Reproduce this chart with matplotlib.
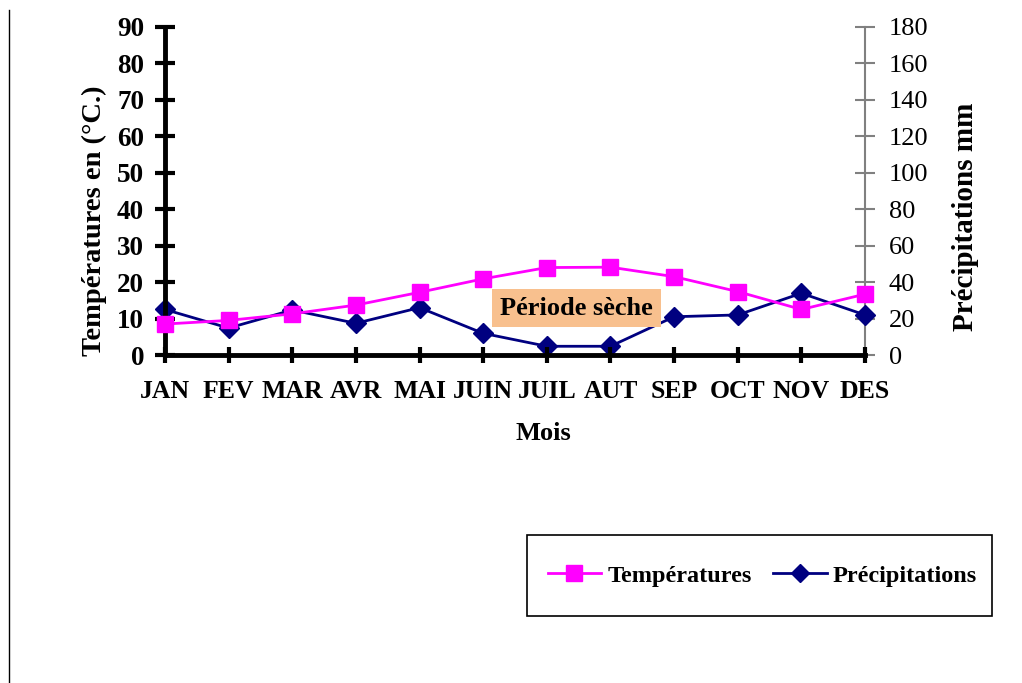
import matplotlib
matplotlib.use("Agg")
import matplotlib.pyplot as plt
from matplotlib.lines import Line2D
from matplotlib.patches import Rectangle

plt.rcParams['font.family'] = ['Liberation Serif', 'DejaVu Serif']

months = ["JAN", "FEV", "MAR", "AVR", "MAI", "JUIN", "JUIL", "AUT", "SEP", "OCT", "NOV", "DES"]
temperatures = [8.5, 9.5, 11.3, 13.7, 17.2, 20.9, 24.0, 24.1, 21.5, 17.4, 12.5, 16.7]
precipitations = [25.0, 14.8, 24.7, 17.4, 26.0, 11.9, 4.8, 4.8, 21.0, 22.0, 33.9, 22.0]
left_ticks = list(range(0, 100, 10))
right_ticks = list(range(0, 200, 20))

fig = plt.figure(figsize=(10.22, 6.83), dpi=100)
ax = fig.add_axes([0.1614, 0.4802, 0.685, 0.4803])
ax2 = ax.twinx()

x = list(range(len(months)))
ax.plot(x, temperatures, color="#FF00FF", lw=2, marker="s", ms=11, mec="#FF00FF", mfc="#FF00FF",
        label="Températures", clip_on=False, zorder=3)
ax2.plot(x, precipitations, color="#000080", lw=2, marker="D", ms=10, mec="#000080", mfc="#000080",
         label="Précipitations", clip_on=False, zorder=3)

ax.set_xlim(0, 11)
ax.set_ylim(0, 90)
ax2.set_ylim(0, 180)
ax.set_xticks(x)
ax.set_xticklabels(months, fontsize=18.5, fontweight="bold")
ax.set_yticks(left_ticks)
ax.set_yticklabels([str(t) for t in left_ticks], fontsize=19.5, fontweight="bold")
ax2.set_yticks(right_ticks)
ax2.set_yticklabels([str(t) for t in right_ticks], fontsize=19)

for s in ["top", "right"]:
    ax.spines[s].set_visible(False)
ax.spines["left"].set_linewidth(3.5)
ax.spines["bottom"].set_linewidth(3.5)
ax2.spines["top"].set_visible(False)
ax2.spines["left"].set_visible(False)
ax2.spines["bottom"].set_visible(False)
ax2.spines["right"].set_color("#808080")
ax2.spines["right"].set_linewidth(1.5)
ax2.spines["right"].set_zorder(0)

ax.tick_params(axis="y", direction="inout", length=14, width=3, pad=8)
ax.tick_params(axis="x", direction="inout", length=12, width=3, pad=12)
ax2.tick_params(axis="y", direction="inout", length=14, width=1.5, color="#808080", pad=10)

ax.set_xlabel("Mois", fontsize=19, fontweight="bold")
ax.xaxis.set_label_coords(0.54, -0.203)
ax.set_ylabel("Températures en (°C.)", fontsize=20.5, fontweight="bold")
ax.yaxis.set_label_coords(-0.083, 0.41)
ax2.set_ylabel("Précipitations mm", fontsize=21, fontweight="bold")
ax2.yaxis.set_label_coords(1.124, 0.42)

ax.text(6.47, 12.9, "Période sèche", fontsize=19, fontweight="bold", ha="center", va="center",
        bbox=dict(boxstyle="square,pad=0.3", fc="#F8C08E", ec="none"), zorder=5)

ax.set_zorder(2)
ax.patch.set_visible(False)
ax2.set_zorder(1)

fig.add_artist(Rectangle((0.5157, 0.0981), 0.455, 0.1186, transform=fig.transFigure,
                         fill=False, ec="black", lw=1.2))

handles = [ax.get_lines()[0], ax2.get_lines()[0]]
leg = fig.legend(handles, ["Températures", "Précipitations"], loc="center",
                 bbox_to_anchor=(0.746, 0.1567), ncol=2, frameon=False,
                 prop=dict(family="Liberation Serif", weight="bold", size=17.5),
                 borderpad=0.2, handlelength=2.2, columnspacing=0.9, handletextpad=0.25,
                 borderaxespad=0)
leg.legend_handles[0].set_markersize(11)
leg.legend_handles[1].set_markersize(9)

fig.add_artist(Line2D([0.0085, 0.0085], [0.0, 0.985], transform=fig.transFigure, color="black", lw=1))

fig.savefig("out.png", dpi=100)
